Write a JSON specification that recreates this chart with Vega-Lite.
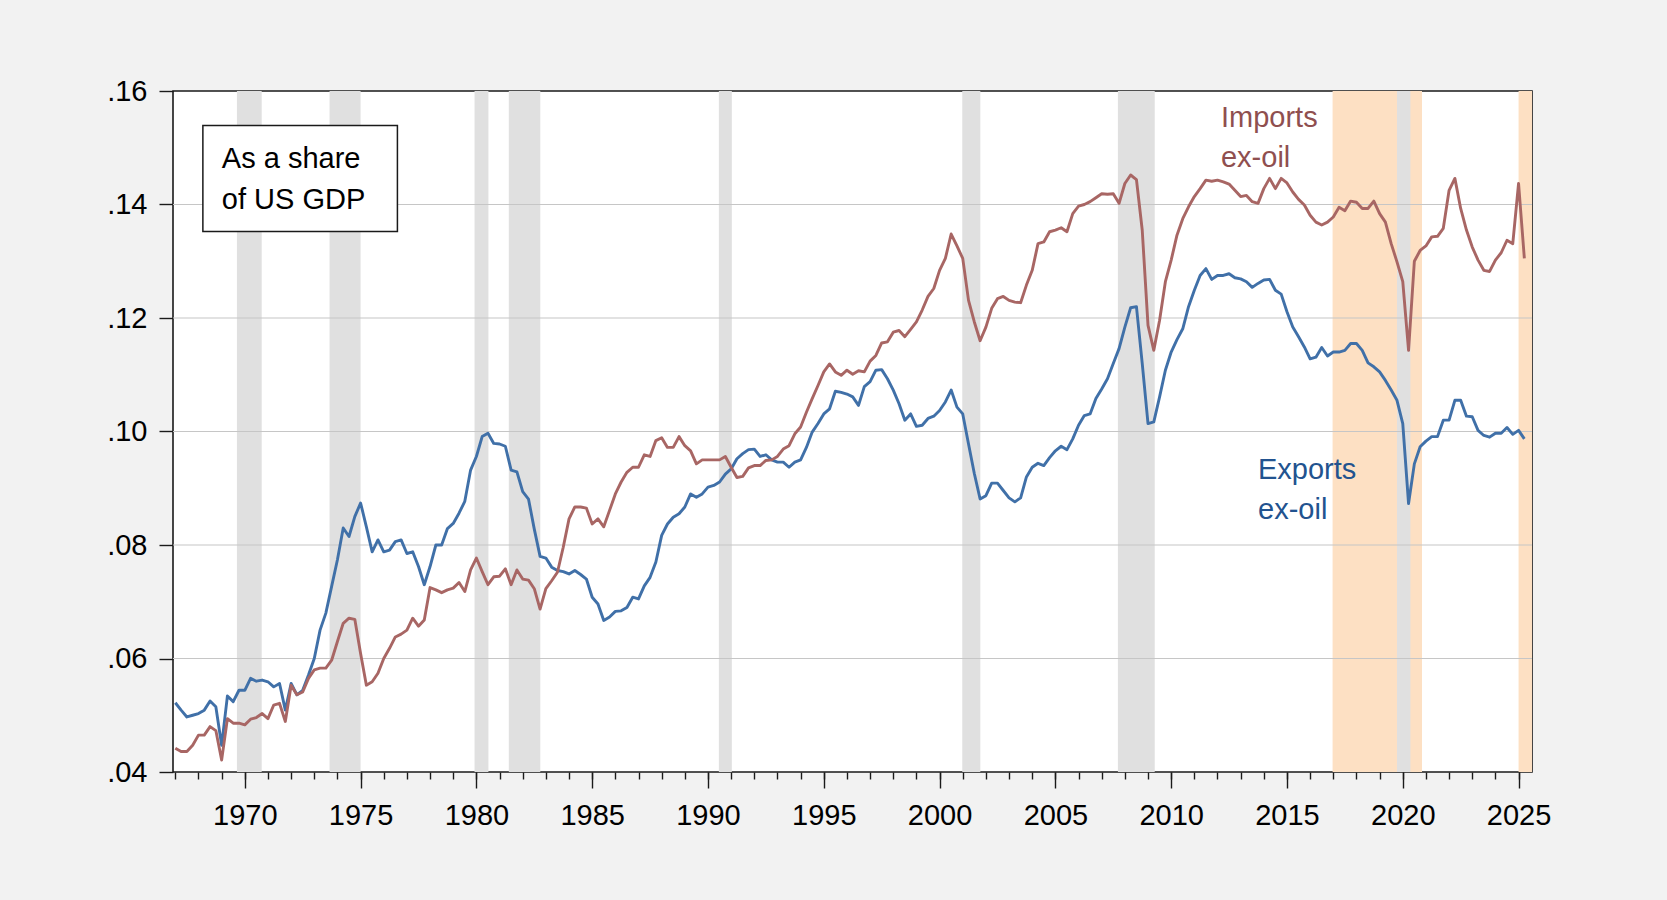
{
  "$schema": "https://vega.github.io/schema/vega-lite/v6.json",
  "width": 1359,
  "height": 681,
  "autosize": {"type": "none"},
  "padding": {"left": 173, "top": 91, "right": 135, "bottom": 128},
  "background": "#f2f2f2",
  "config": {
    "view": {"fill": "white", "stroke": "#1a1a1a", "strokeWidth": 1.6},
    "font": "Liberation Sans",
    "axis": {"labelFont": "Liberation Sans", "labelColor": "#000000", "tickColor": "#1a1a1a", "tickWidth": 1.4, "domain": false, "grid": false, "title": null, "labelFlush": false, "labelOverlap": false, "labelBound": false}
  },
  "datasets": {
    "terms": [
      {"start": 2016.97, "end": 2020.83},
      {"start": 2025.0, "end": 2025.58}
    ],
    "recessions": [
      {"start": 1969.66, "end": 1970.73},
      {"start": 1973.66, "end": 1975.0},
      {"start": 1979.92, "end": 1980.52},
      {"start": 1981.4, "end": 1982.76},
      {"start": 1990.47, "end": 1991.03},
      {"start": 2000.98, "end": 2001.76},
      {"start": 2007.7, "end": 2009.29},
      {"start": 2019.75, "end": 2020.33}
    ],
    "grid": [{"v": 0.06}, {"v": 0.08}, {"v": 0.10}, {"v": 0.12}, {"v": 0.14}],
    "box": [{"x1": 1968.19, "x2": 1976.59, "y1": 0.1539, "y2": 0.13526}],
    "labels": [
      {"x": 1969.01, "y": 0.14799, "text": "As a share", "g": "note"},
      {"x": 1969.01, "y": 0.14086, "text": "of US GDP", "g": "note"},
      {"x": 2012.15, "y": 0.15526, "text": "Imports", "g": "imp"},
      {"x": 2012.15, "y": 0.1482, "text": "ex-oil", "g": "imp"},
      {"x": 2013.75, "y": 0.09323, "text": "Exports", "g": "exp"},
      {"x": 2013.75, "y": 0.08617, "text": "ex-oil", "g": "exp"}
    ],
    "series": [
{"year":1967,"exports":0.0522,"imports":0.0442},
{"year":1967.25,"exports":0.0509,"imports":0.0436},
{"year":1967.5,"exports":0.0497,"imports":0.0436},
{"year":1967.75,"exports":0.05,"imports":0.0447},
{"year":1968,"exports":0.0503,"imports":0.0465},
{"year":1968.25,"exports":0.0509,"imports":0.0465},
{"year":1968.5,"exports":0.0525,"imports":0.048},
{"year":1968.75,"exports":0.0515,"imports":0.0473},
{"year":1969,"exports":0.0447,"imports":0.0421},
{"year":1969.25,"exports":0.0534,"imports":0.0494},
{"year":1969.5,"exports":0.0524,"imports":0.0486},
{"year":1969.75,"exports":0.0544,"imports":0.0486},
{"year":1970,"exports":0.0544,"imports":0.0483},
{"year":1970.25,"exports":0.0565,"imports":0.0493},
{"year":1970.5,"exports":0.056,"imports":0.0496},
{"year":1970.75,"exports":0.0562,"imports":0.0503},
{"year":1971,"exports":0.0559,"imports":0.0494},
{"year":1971.25,"exports":0.055,"imports":0.0518},
{"year":1971.5,"exports":0.0556,"imports":0.0521},
{"year":1971.75,"exports":0.0509,"imports":0.0489},
{"year":1972,"exports":0.0556,"imports":0.0553},
{"year":1972.25,"exports":0.0536,"imports":0.0536},
{"year":1972.5,"exports":0.0544,"imports":0.0541},
{"year":1972.75,"exports":0.0571,"imports":0.0565},
{"year":1973,"exports":0.06,"imports":0.058},
{"year":1973.25,"exports":0.065,"imports":0.0583},
{"year":1973.5,"exports":0.068,"imports":0.0583},
{"year":1973.75,"exports":0.0727,"imports":0.0597},
{"year":1974,"exports":0.0774,"imports":0.063},
{"year":1974.25,"exports":0.083,"imports":0.0662},
{"year":1974.5,"exports":0.0815,"imports":0.0671},
{"year":1974.75,"exports":0.085,"imports":0.0669},
{"year":1975,"exports":0.0874,"imports":0.0609},
{"year":1975.25,"exports":0.0832,"imports":0.0553},
{"year":1975.5,"exports":0.0788,"imports":0.0559},
{"year":1975.75,"exports":0.0809,"imports":0.0574},
{"year":1976,"exports":0.0788,"imports":0.06},
{"year":1976.25,"exports":0.0791,"imports":0.0618},
{"year":1976.5,"exports":0.0806,"imports":0.0638},
{"year":1976.75,"exports":0.0809,"imports":0.0643},
{"year":1977,"exports":0.0785,"imports":0.065},
{"year":1977.25,"exports":0.0788,"imports":0.0671},
{"year":1977.5,"exports":0.0762,"imports":0.0657},
{"year":1977.75,"exports":0.073,"imports":0.0668},
{"year":1978,"exports":0.0762,"imports":0.0725},
{"year":1978.25,"exports":0.08,"imports":0.0721},
{"year":1978.5,"exports":0.08,"imports":0.0716},
{"year":1978.75,"exports":0.0829,"imports":0.0721},
{"year":1979,"exports":0.0838,"imports":0.0724},
{"year":1979.25,"exports":0.0856,"imports":0.0734},
{"year":1979.5,"exports":0.0877,"imports":0.0718},
{"year":1979.75,"exports":0.0932,"imports":0.0756},
{"year":1980,"exports":0.0956,"imports":0.0777},
{"year":1980.25,"exports":0.0991,"imports":0.0753},
{"year":1980.5,"exports":0.0997,"imports":0.073},
{"year":1980.75,"exports":0.0979,"imports":0.0744},
{"year":1981,"exports":0.0978,"imports":0.0745},
{"year":1981.25,"exports":0.0974,"imports":0.0758},
{"year":1981.5,"exports":0.0932,"imports":0.073},
{"year":1981.75,"exports":0.0929,"imports":0.0756},
{"year":1982,"exports":0.0894,"imports":0.074},
{"year":1982.25,"exports":0.0881,"imports":0.0738},
{"year":1982.5,"exports":0.0828,"imports":0.0723},
{"year":1982.75,"exports":0.078,"imports":0.0687},
{"year":1983,"exports":0.0777,"imports":0.0723},
{"year":1983.25,"exports":0.0761,"imports":0.0737},
{"year":1983.5,"exports":0.0755,"imports":0.0752},
{"year":1983.75,"exports":0.0753,"imports":0.0796},
{"year":1984,"exports":0.0749,"imports":0.0846},
{"year":1984.25,"exports":0.0755,"imports":0.0867},
{"year":1984.5,"exports":0.0748,"imports":0.0867},
{"year":1984.75,"exports":0.074,"imports":0.0865},
{"year":1985,"exports":0.0708,"imports":0.0837},
{"year":1985.25,"exports":0.0696,"imports":0.0846},
{"year":1985.5,"exports":0.0667,"imports":0.0832},
{"year":1985.75,"exports":0.0673,"imports":0.0861},
{"year":1986,"exports":0.0683,"imports":0.089},
{"year":1986.25,"exports":0.0684,"imports":0.0911},
{"year":1986.5,"exports":0.069,"imports":0.0928},
{"year":1986.75,"exports":0.0708,"imports":0.0937},
{"year":1987,"exports":0.0705,"imports":0.0937},
{"year":1987.25,"exports":0.0728,"imports":0.0959},
{"year":1987.5,"exports":0.0743,"imports":0.0956},
{"year":1987.75,"exports":0.077,"imports":0.0984},
{"year":1988,"exports":0.0817,"imports":0.0989},
{"year":1988.25,"exports":0.0837,"imports":0.0972},
{"year":1988.5,"exports":0.0849,"imports":0.0972},
{"year":1988.75,"exports":0.0855,"imports":0.0991},
{"year":1989,"exports":0.0867,"imports":0.0975},
{"year":1989.25,"exports":0.089,"imports":0.0966},
{"year":1989.5,"exports":0.0884,"imports":0.0943},
{"year":1989.75,"exports":0.089,"imports":0.095},
{"year":1990,"exports":0.0902,"imports":0.095},
{"year":1990.25,"exports":0.0905,"imports":0.095},
{"year":1990.5,"exports":0.0911,"imports":0.095},
{"year":1990.75,"exports":0.0925,"imports":0.0956},
{"year":1991,"exports":0.0934,"imports":0.0937},
{"year":1991.25,"exports":0.0952,"imports":0.0919},
{"year":1991.5,"exports":0.0961,"imports":0.0921},
{"year":1991.75,"exports":0.0968,"imports":0.0936},
{"year":1992,"exports":0.0969,"imports":0.094},
{"year":1992.25,"exports":0.0956,"imports":0.094},
{"year":1992.5,"exports":0.0959,"imports":0.0949},
{"year":1992.75,"exports":0.095,"imports":0.095},
{"year":1993,"exports":0.0946,"imports":0.0956},
{"year":1993.25,"exports":0.0946,"imports":0.0969},
{"year":1993.5,"exports":0.0937,"imports":0.0975},
{"year":1993.75,"exports":0.0946,"imports":0.0996},
{"year":1994,"exports":0.095,"imports":0.1008},
{"year":1994.25,"exports":0.0972,"imports":0.1034},
{"year":1994.5,"exports":0.0999,"imports":0.1058},
{"year":1994.75,"exports":0.1014,"imports":0.1081},
{"year":1995,"exports":0.1031,"imports":0.1105},
{"year":1995.25,"exports":0.104,"imports":0.1119},
{"year":1995.5,"exports":0.1071,"imports":0.1105},
{"year":1995.75,"exports":0.1069,"imports":0.1099},
{"year":1996,"exports":0.1066,"imports":0.1108},
{"year":1996.25,"exports":0.1061,"imports":0.1101},
{"year":1996.5,"exports":0.1046,"imports":0.1107},
{"year":1996.75,"exports":0.1079,"imports":0.1105},
{"year":1997,"exports":0.1088,"imports":0.1124},
{"year":1997.25,"exports":0.1108,"imports":0.1134},
{"year":1997.5,"exports":0.1109,"imports":0.1156},
{"year":1997.75,"exports":0.1093,"imports":0.1158},
{"year":1998,"exports":0.1073,"imports":0.1175},
{"year":1998.25,"exports":0.1049,"imports":0.1178},
{"year":1998.5,"exports":0.102,"imports":0.1167},
{"year":1998.75,"exports":0.1031,"imports":0.118},
{"year":1999,"exports":0.1009,"imports":0.1193},
{"year":1999.25,"exports":0.1011,"imports":0.1214},
{"year":1999.5,"exports":0.1023,"imports":0.1238},
{"year":1999.75,"exports":0.1027,"imports":0.1252},
{"year":2000,"exports":0.1037,"imports":0.1284},
{"year":2000.25,"exports":0.1052,"imports":0.1305},
{"year":2000.5,"exports":0.1073,"imports":0.1348},
{"year":2000.75,"exports":0.1043,"imports":0.1327},
{"year":2001,"exports":0.1031,"imports":0.1305},
{"year":2001.25,"exports":0.0978,"imports":0.1231},
{"year":2001.5,"exports":0.0926,"imports":0.1193},
{"year":2001.75,"exports":0.0881,"imports":0.116},
{"year":2002,"exports":0.0887,"imports":0.1184},
{"year":2002.25,"exports":0.0909,"imports":0.1217},
{"year":2002.5,"exports":0.0909,"imports":0.1234},
{"year":2002.75,"exports":0.0896,"imports":0.1238},
{"year":2003,"exports":0.0883,"imports":0.1231},
{"year":2003.25,"exports":0.0876,"imports":0.1228},
{"year":2003.5,"exports":0.0883,"imports":0.1227},
{"year":2003.75,"exports":0.092,"imports":0.1258},
{"year":2004,"exports":0.0937,"imports":0.1284},
{"year":2004.25,"exports":0.0944,"imports":0.1331},
{"year":2004.5,"exports":0.094,"imports":0.1334},
{"year":2004.75,"exports":0.0954,"imports":0.1352},
{"year":2005,"exports":0.0966,"imports":0.1355},
{"year":2005.25,"exports":0.0974,"imports":0.1359},
{"year":2005.5,"exports":0.0968,"imports":0.1352},
{"year":2005.75,"exports":0.0987,"imports":0.1384},
{"year":2006,"exports":0.1011,"imports":0.1397},
{"year":2006.25,"exports":0.1028,"imports":0.14},
{"year":2006.5,"exports":0.1031,"imports":0.1405},
{"year":2006.75,"exports":0.1058,"imports":0.1412},
{"year":2007,"exports":0.1075,"imports":0.1419},
{"year":2007.25,"exports":0.1093,"imports":0.1418},
{"year":2007.5,"exports":0.112,"imports":0.1419},
{"year":2007.75,"exports":0.1146,"imports":0.1402},
{"year":2008,"exports":0.1184,"imports":0.1437},
{"year":2008.25,"exports":0.1218,"imports":0.1452},
{"year":2008.5,"exports":0.122,"imports":0.1444},
{"year":2008.75,"exports":0.112,"imports":0.1355},
{"year":2009,"exports":0.1014,"imports":0.1187},
{"year":2009.25,"exports":0.1017,"imports":0.1143},
{"year":2009.5,"exports":0.1061,"imports":0.1196},
{"year":2009.75,"exports":0.1108,"imports":0.1264},
{"year":2010,"exports":0.114,"imports":0.1302},
{"year":2010.25,"exports":0.1162,"imports":0.1346},
{"year":2010.5,"exports":0.1181,"imports":0.1375},
{"year":2010.75,"exports":0.122,"imports":0.1396},
{"year":2011,"exports":0.1249,"imports":0.1414},
{"year":2011.25,"exports":0.1275,"imports":0.1428},
{"year":2011.5,"exports":0.1287,"imports":0.1443},
{"year":2011.75,"exports":0.1268,"imports":0.1441},
{"year":2012,"exports":0.1275,"imports":0.1443},
{"year":2012.25,"exports":0.1275,"imports":0.144},
{"year":2012.5,"exports":0.1278,"imports":0.1436},
{"year":2012.75,"exports":0.1271,"imports":0.1425},
{"year":2013,"exports":0.1269,"imports":0.1414},
{"year":2013.25,"exports":0.1264,"imports":0.1416},
{"year":2013.5,"exports":0.1254,"imports":0.1405},
{"year":2013.75,"exports":0.1261,"imports":0.1402},
{"year":2014,"exports":0.1267,"imports":0.1428},
{"year":2014.25,"exports":0.1268,"imports":0.1446},
{"year":2014.5,"exports":0.1249,"imports":0.1428},
{"year":2014.75,"exports":0.1242,"imports":0.1446},
{"year":2015,"exports":0.1211,"imports":0.1438},
{"year":2015.25,"exports":0.1184,"imports":0.1422},
{"year":2015.5,"exports":0.1167,"imports":0.1409},
{"year":2015.75,"exports":0.1149,"imports":0.1399},
{"year":2016,"exports":0.1128,"imports":0.1381},
{"year":2016.25,"exports":0.1131,"imports":0.1369},
{"year":2016.5,"exports":0.1148,"imports":0.1364},
{"year":2016.75,"exports":0.1133,"imports":0.1369},
{"year":2017,"exports":0.114,"imports":0.1378},
{"year":2017.25,"exports":0.114,"imports":0.1395},
{"year":2017.5,"exports":0.1143,"imports":0.1389},
{"year":2017.75,"exports":0.1155,"imports":0.1406},
{"year":2018,"exports":0.1155,"imports":0.1404},
{"year":2018.25,"exports":0.1143,"imports":0.1393},
{"year":2018.5,"exports":0.1121,"imports":0.1393},
{"year":2018.75,"exports":0.1114,"imports":0.1406},
{"year":2019,"exports":0.1105,"imports":0.1384},
{"year":2019.25,"exports":0.109,"imports":0.1369},
{"year":2019.5,"exports":0.1073,"imports":0.1331},
{"year":2019.75,"exports":0.1055,"imports":0.1299},
{"year":2020,"exports":0.1014,"imports":0.1264},
{"year":2020.25,"exports":0.0873,"imports":0.1143},
{"year":2020.5,"exports":0.0943,"imports":0.13},
{"year":2020.75,"exports":0.0973,"imports":0.1319},
{"year":2021,"exports":0.0983,"imports":0.1327},
{"year":2021.25,"exports":0.0991,"imports":0.1343},
{"year":2021.5,"exports":0.0991,"imports":0.1344},
{"year":2021.75,"exports":0.102,"imports":0.1358},
{"year":2022,"exports":0.102,"imports":0.1425},
{"year":2022.25,"exports":0.1055,"imports":0.1446},
{"year":2022.5,"exports":0.1055,"imports":0.1393},
{"year":2022.75,"exports":0.1027,"imports":0.1355},
{"year":2023,"exports":0.1026,"imports":0.1325},
{"year":2023.25,"exports":0.1002,"imports":0.1302},
{"year":2023.5,"exports":0.0993,"imports":0.1284},
{"year":2023.75,"exports":0.099,"imports":0.1282},
{"year":2024,"exports":0.0997,"imports":0.1302},
{"year":2024.25,"exports":0.0997,"imports":0.1315},
{"year":2024.5,"exports":0.1007,"imports":0.1337},
{"year":2024.75,"exports":0.0995,"imports":0.1331},
{"year":2025,"exports":0.1002,"imports":0.1437},
{"year":2025.25,"exports":0.0987,"imports":0.1305}
    ]
  },
  "resolve": {"axis": {"x": "independent"}},
  "layer": [
    {
      "data": {"name": "terms"},
      "mark": {"type": "rect", "color": "#fde0c3", "clip": true},
      "encoding": {
        "x": {"field": "start", "type": "quantitative", "scale": {"domain": [1966.9, 2025.58], "nice": false, "zero": false},
              "axis": {"orient": "bottom", "values": [1970, 1975, 1980, 1985, 1990, 1995, 2000, 2005, 2010, 2015, 2020, 2025], "format": "d", "tickSize": 16, "labelPadding": 13, "labelFontSize": 29}},
        "x2": {"field": "end"}
      }
    },
    {
      "data": {"name": "recessions"},
      "mark": {"type": "rect", "color": "#e0e0e0", "clip": true},
      "encoding": {
        "x": {"field": "start", "type": "quantitative", "scale": {"domain": [1966.9, 2025.58], "nice": false, "zero": false},
              "axis": {"orient": "bottom", "values": [1967, 1968, 1969, 1970, 1971, 1972, 1973, 1974, 1975, 1976, 1977, 1978, 1979, 1980, 1981, 1982, 1983, 1984, 1985, 1986, 1987, 1988, 1989, 1990, 1991, 1992, 1993, 1994, 1995, 1996, 1997, 1998, 1999, 2000, 2001, 2002, 2003, 2004, 2005, 2006, 2007, 2008, 2009, 2010, 2011, 2012, 2013, 2014, 2015, 2016, 2017, 2018, 2019, 2020, 2021, 2022, 2023, 2024, 2025], "tickSize": 7, "labels": false}},
        "x2": {"field": "end"}
      }
    },
    {
      "data": {"name": "grid"},
      "mark": {"type": "rule", "color": "#c6c6c6", "strokeWidth": 1.2},
      "encoding": {
        "y": {"field": "v", "type": "quantitative", "scale": {"domain": [0.04, 0.16], "nice": false, "zero": false},
              "axis": {"values": [0.04, 0.06, 0.08, 0.10, 0.12, 0.14, 0.16], "labelExpr": "slice(format(datum.value, '.2f'), 1)", "tickSize": 14, "labelPadding": 12, "labelFontSize": 29}}
      }
    },
    {
      "data": {"name": "series"},
      "mark": {"type": "line", "color": "#4070a8", "strokeWidth": 2.9, "strokeJoin": "round"},
      "encoding": {
        "x": {"field": "year", "type": "quantitative", "scale": {"domain": [1966.9, 2025.58], "nice": false, "zero": false}, "axis": null},
        "y": {"field": "exports", "type": "quantitative", "scale": {"domain": [0.04, 0.16], "nice": false, "zero": false},
              "axis": {"values": [0.04, 0.06, 0.08, 0.10, 0.12, 0.14, 0.16], "labelExpr": "slice(format(datum.value, '.2f'), 1)", "tickSize": 14, "labelPadding": 12, "labelFontSize": 29}}
      }
    },
    {
      "data": {"name": "series"},
      "mark": {"type": "line", "color": "#a86664", "strokeWidth": 2.9, "strokeJoin": "round"},
      "encoding": {
        "x": {"field": "year", "type": "quantitative", "scale": {"domain": [1966.9, 2025.58], "nice": false, "zero": false}, "axis": null},
        "y": {"field": "imports", "type": "quantitative", "scale": {"domain": [0.04, 0.16], "nice": false, "zero": false},
              "axis": {"values": [0.04, 0.06, 0.08, 0.10, 0.12, 0.14, 0.16], "labelExpr": "slice(format(datum.value, '.2f'), 1)", "tickSize": 14, "labelPadding": 12, "labelFontSize": 29}}
      }
    },
    {
      "data": {"name": "box"},
      "mark": {"type": "rect", "fill": "white", "stroke": "#1a1a1a", "strokeWidth": 1.5},
      "encoding": {
        "x": {"field": "x1", "type": "quantitative", "scale": {"domain": [1966.9, 2025.58], "nice": false, "zero": false}, "axis": null},
        "x2": {"field": "x2"},
        "y": {"field": "y1", "type": "quantitative", "scale": {"domain": [0.04, 0.16], "nice": false, "zero": false},
              "axis": {"values": [0.04, 0.06, 0.08, 0.10, 0.12, 0.14, 0.16], "labelExpr": "slice(format(datum.value, '.2f'), 1)", "tickSize": 14, "labelPadding": 12, "labelFontSize": 29}},
        "y2": {"field": "y2"}
      }
    },
    {
      "data": {"name": "labels"},
      "mark": {"type": "text", "align": "left", "baseline": "middle", "fontSize": 29, "font": "Liberation Sans"},
      "encoding": {
        "x": {"field": "x", "type": "quantitative", "scale": {"domain": [1966.9, 2025.58], "nice": false, "zero": false}, "axis": null},
        "y": {"field": "y", "type": "quantitative", "scale": {"domain": [0.04, 0.16], "nice": false, "zero": false},
              "axis": {"values": [0.04, 0.06, 0.08, 0.10, 0.12, 0.14, 0.16], "labelExpr": "slice(format(datum.value, '.2f'), 1)", "tickSize": 14, "labelPadding": 12, "labelFontSize": 29}},
        "text": {"field": "text", "type": "nominal"},
        "color": {"field": "g", "type": "nominal", "scale": {"domain": ["note", "imp", "exp"], "range": ["#000000", "#8f4f4f", "#22538f"]}, "legend": null}
      }
    }
  ]
}
